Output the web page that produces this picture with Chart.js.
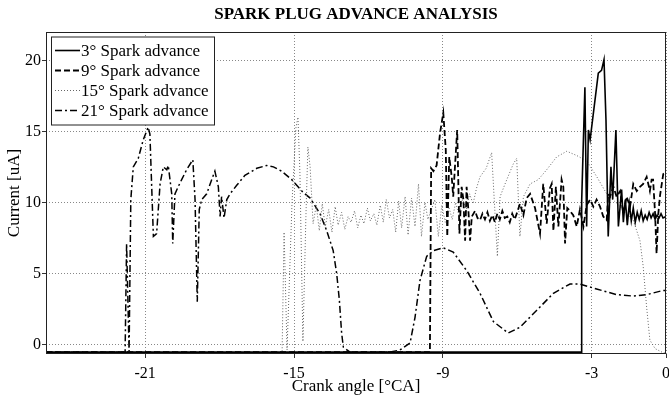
<!DOCTYPE html>
<html>
<head>
<meta charset="utf-8">
<script src="https://cdn.jsdelivr.net/npm/chart.js@4.4.0/dist/chart.umd.min.js"></script>
<style>
  html, body { margin: 0; padding: 0; background: #fff; }
  #wrap { width: 669px; height: 399px; }
</style>
</head>
<body>
<div id="wrap"><canvas id="chart"></canvas></div>
<script>
const chartTitle = 'SPARK PLUG ADVANCE ANALYSIS';
const seriesLabels = ['3° Spark advance', '9° Spark advance', '15° Spark advance', '21° Spark advance'];
const angleTicks = [-21, -15, -9, -3, 0];
const currentTicks = [0, 5, 10, 15, 20];

// [crank angle, current] samples for each advance setting
const spark3 = [
    [-25, -0.55], [-3.41, -0.55], [-3.40, 10.1], [-3.27, 18.1], [-3.20, 8.3], [-3.13, 15.1],
    [-3.06, 14.4], [-2.73, 19.1], [-2.60, 19.3], [-2.50, 20.05], [-2.42, 15.8], [-2.33, 7.6],
    [-2.22, 12.5], [-2.15, 10.2], [-2.02, 15.1], [-1.92, 8.3], [-1.79, 10.9], [-1.72, 8.6],
    [-1.64, 10.2], [-1.56, 8.4], [-1.48, 9.9], [-1.40, 8.7], [-1.32, 9.6], [-1.24, 8.6],
    [-1.16, 9.3], [-1.08, 8.8], [-1.00, 9.4], [-0.92, 8.7], [-0.84, 9.1], [-0.76, 8.8],
    [-0.68, 9.3], [-0.60, 8.9], [-0.52, 9.2], [-0.44, 8.8], [-0.36, 9.1], [-0.28, 8.9],
    [-0.20, 9.2], [-0.12, 8.9], [0, 9.0]
];

const spark9 = [
    [-25, -0.55], [-9.52, -0.55], [-9.47, 12.4], [-9.38, 12.2], [-9.25, 12.6], [-9.11, 14.9],
    [-8.98, 16.3], [-8.88, 13.7], [-8.82, 7.6], [-8.74, 13.2], [-8.64, 11.8], [-8.58, 10.4],
    [-8.51, 12.5], [-8.42, 15.1], [-8.33, 7.8], [-8.24, 11.1], [-8.17, 10.2], [-8.10, 7.3],
    [-8.04, 11.1], [-7.97, 9.5], [-7.90, 7.3], [-7.83, 9.0], [-7.70, 9.4], [-7.60, 8.9],
    [-7.50, 8.75], [-7.40, 9.2], [-7.30, 8.8], [-7.20, 9.3], [-7.10, 8.7], [-7.00, 9.1],
    [-6.90, 8.6], [-6.80, 9.2], [-6.70, 8.8], [-6.60, 9.4], [-6.50, 8.9], [-6.40, 9.0],
    [-6.30, 8.6], [-6.20, 9.2], [-6.10, 8.8], [-6.00, 9.3], [-5.89, 9.9], [-5.75, 9.1],
    [-5.62, 10.3], [-5.48, 10.6], [-5.28, 9.6], [-5.08, 7.8], [-4.95, 11.3], [-4.81, 8.5],
    [-4.68, 11.0], [-4.61, 11.3], [-4.54, 8.0], [-4.44, 11.1], [-4.34, 8.3], [-4.21, 11.6],
    [-4.14, 11.1], [-4.07, 7.1], [-3.98, 9.6], [-3.87, 9.4], [-3.74, 9.1], [-3.60, 8.3],
    [-3.47, 9.5], [-3.33, 8.3], [-3.20, 9.8], [-3.06, 10.2], [-2.93, 9.7], [-2.80, 10.2],
    [-2.66, 9.7], [-2.53, 9.0], [-2.39, 8.75], [-2.33, 10.6], [-2.26, 10.4], [-2.12, 11.1],
    [-1.99, 10.4], [-1.85, 10.8], [-1.72, 9.2], [-1.59, 10.4], [-1.45, 9.7], [-1.32, 11.3],
    [-1.18, 10.8], [-1.05, 11.1], [-0.92, 11.3], [-0.78, 11.8], [-0.65, 10.8], [-0.58, 11.6],
    [-0.52, 11.6], [-0.44, 9.2], [-0.38, 6.4], [-0.31, 9.2], [-0.24, 10.5], [-0.11, 12.0],
    [0, 12.1]
];

const spark15 = [
    [-25, -0.55], [-15.48, -0.55], [-15.40, 7.9], [-15.28, -0.4], [-15.08, 10.0], [-14.92, 15.3],
    [-14.84, 16.0], [-14.76, 12.0], [-14.64, 0.2], [-14.52, 9.0], [-14.44, 13.9], [-14.35, 12.5],
    [-14.23, 8.5], [-14.10, 9.8], [-13.98, 8.0], [-13.86, 9.9], [-13.74, 8.3], [-13.60, 9.5],
    [-13.47, 7.9], [-13.34, 9.7], [-13.22, 8.4], [-13.08, 9.3], [-12.95, 8.1], [-12.82, 9.0],
    [-12.70, 8.6], [-12.56, 9.4], [-12.43, 8.2], [-12.30, 9.1], [-12.18, 8.5], [-12.04, 9.6],
    [-11.92, 8.7], [-11.78, 9.2], [-11.66, 8.4], [-11.52, 9.8], [-11.40, 8.6], [-11.28, 10.2],
    [-11.15, 8.9], [-11.02, 9.5], [-10.90, 7.9], [-10.78, 10.1], [-10.66, 8.2], [-10.52, 10.4],
    [-10.40, 7.7], [-10.26, 10.3], [-10.12, 8.3], [-9.98, 11.3], [-9.86, 7.6], [-9.72, 10.0],
    [-9.60, 8.8], [-9.46, 9.5], [-9.32, 10.2], [-9.18, 7.6], [-9.04, 9.8], [-8.90, 8.6],
    [-8.76, 9.7], [-8.62, 8.8], [-8.48, 10.0], [-8.34, 9.0], [-8.20, 10.3], [-8.06, 9.4],
    [-7.92, 10.6], [-7.78, 9.9], [-7.64, 11.0], [-7.50, 11.8], [-7.25, 12.4], [-7.03, 13.5],
    [-6.80, 6.2], [-6.69, 10.4], [-6.49, 11.3], [-6.16, 12.7], [-6.02, 13.1], [-5.89, 7.6],
    [-5.75, 10.4], [-5.48, 11.3], [-5.15, 11.6], [-4.81, 12.3], [-4.41, 13.2], [-4.00, 13.6],
    [-3.60, 13.3], [-3.19, 12.9], [-2.79, 11.8], [-2.39, 10.6], [-1.85, 9.7], [-1.32, 8.75],
    [-1.05, 7.3], [-0.92, 5.5], [-0.78, 2.6], [-0.65, 0.3], [-0.44, -0.3], [-0.11, -0.6],
    [0, -0.6]
];

const spark21 = [
    [-25, -0.55], [-21.81, -0.55], [-21.75, 7.1], [-21.65, -0.5], [-21.58, 10.2], [-21.48, 12.5],
    [-21.28, 13.1], [-21.08, 14.4], [-20.88, 15.3], [-20.81, 14.8], [-20.67, 7.6], [-20.54, 7.8],
    [-20.40, 11.3], [-20.27, 12.5], [-20.13, 12.3], [-20.07, 12.6], [-19.93, 10.6], [-19.89, 7.1],
    [-19.80, 10.6], [-19.67, 11.1], [-19.53, 11.6], [-19.33, 12.3], [-19.08, 13.0], [-18.99, 10.2],
    [-18.90, 3.0], [-18.82, 9.5], [-18.72, 10.2], [-18.52, 10.6], [-18.32, 11.6], [-18.19, 12.2],
    [-18.05, 11.1], [-17.98, 9.0], [-17.92, 10.4], [-17.82, 8.9], [-17.71, 10.2], [-17.58, 10.6],
    [-17.31, 11.2], [-16.98, 11.9], [-16.50, 12.4], [-16.10, 12.6], [-15.83, 12.5], [-15.50, 12.2],
    [-15.09, 11.6], [-14.63, 10.7], [-14.35, 10.3], [-13.95, 9.2], [-13.68, 8.0], [-13.42, 6.6],
    [-13.28, 5.0], [-13.17, 3.1], [-13.08, 0.8], [-13.01, -0.2], [-12.74, -0.55], [-11.13, -0.55],
    [-10.73, -0.4], [-10.32, 0.1], [-10.12, 1.9], [-9.92, 4.5], [-9.65, 6.2], [-9.38, 6.6],
    [-8.98, 6.8], [-8.58, 6.5], [-8.04, 5.2], [-7.50, 3.6], [-6.96, 1.6], [-6.36, 0.8],
    [-5.89, 1.2], [-5.21, 2.4], [-4.54, 3.6], [-3.87, 4.25], [-3.47, 4.25], [-2.80, 3.9],
    [-1.99, 3.5], [-1.32, 3.4], [-0.78, 3.5], [-0.11, 3.8], [0, 3.8]
];

const serif = '"Liberation Serif", "Times New Roman", serif';
Chart.defaults.font.family = serif;
Chart.defaults.color = '#000';

const toPoints = rows => rows.map(([x, y]) => ({ x, y }));

const datasets = [
    { label: seriesLabels[0], data: toPoints(spark3), borderColor: '#000', borderWidth: 1.6, borderDash: [] },
    { label: seriesLabels[1], data: toPoints(spark9), borderColor: '#000', borderWidth: 1.8, borderDash: [6, 3] },
    { label: seriesLabels[2], data: toPoints(spark15), borderColor: '#666', borderWidth: 1, borderDash: [1, 2] },
    { label: seriesLabels[3], data: toPoints(spark21), borderColor: '#000', borderWidth: 1.5, borderDash: [7, 3, 2, 3] }
].map(d => ({ ...d, pointRadius: 0, tension: 0, fill: false }));

// box around the plot, the title on top and a boxed legend in the upper-left corner
const framePlugin = {
    id: 'framePlugin',
    afterDraw(chart) {
        const { ctx, chartArea: a } = chart;
        ctx.save();
        ctx.setLineDash([]);
        ctx.strokeStyle = '#222';
        ctx.lineWidth = 1;
        ctx.strokeRect(a.left + 0.5, a.top + 0.5, a.right - a.left - 1, a.bottom - a.top - 1);

        ctx.fillStyle = '#000';
        ctx.font = 'bold 17px ' + serif;
        ctx.textAlign = 'center';
        ctx.textBaseline = 'middle';
        ctx.fillText(chartTitle, (a.left + a.right) / 2, 15);

        const lx = a.left + 5, ly = a.top + 4.5, lw = 163, lh = 88;
        ctx.fillStyle = '#fff';
        ctx.fillRect(lx, ly, lw, lh);
        ctx.strokeStyle = '#222';
        ctx.strokeRect(lx + 0.5, ly + 0.5, lw, lh);

        ctx.font = '17px ' + serif;
        ctx.textAlign = 'left';
        chart.data.datasets.forEach((ds, i) => {
            const y = ly + 14 + i * 20;
            ctx.strokeStyle = ds.borderColor;
            ctx.lineWidth = ds.borderWidth;
            ctx.setLineDash(ds.borderDash);
            ctx.beginPath();
            ctx.moveTo(lx + 4, y);
            ctx.lineTo(lx + 29, y);
            ctx.stroke();
            ctx.setLineDash([]);
            ctx.fillStyle = '#000';
            ctx.fillText(ds.label, lx + 30, y + 1);
        });
        ctx.restore();
    }
};

new Chart(document.getElementById('chart'), {
    type: 'line',
    data: { datasets },
    plugins: [framePlugin],
    options: {
        responsive: true,
        maintainAspectRatio: false,
        animation: false,
        layout: { padding: { top: 32, right: 3, left: 0, bottom: 0 } },
        plugins: {
            legend: { display: false },
            title: { display: false },
            tooltip: { enabled: false }
        },
        scales: {
            x: {
                type: 'linear',
                min: -25,
                max: 0,
                afterBuildTicks: scale => { scale.ticks = angleTicks.map(value => ({ value })); },
                afterFit: scale => { scale.height = 45; scale.paddingLeft = 0; scale.paddingRight = 0; },
                ticks: { font: { size: 16 }, padding: 6, maxRotation: 0, autoSkip: false, color: '#000' },
                grid: { color: '#888', lineWidth: 1, tickLength: 4, tickColor: '#333', tickBorderDash: [] },
                border: { display: false, dash: [1, 2] },
                title: { display: true, text: 'Crank angle [°CA]', font: { size: 17 }, padding: { top: 0, bottom: 2 } }
            },
            y: {
                min: -0.68,
                max: 22,
                afterBuildTicks: scale => { scale.ticks = currentTicks.map(value => ({ value })); },
                afterFit: scale => { scale.width = 46; scale.paddingTop = 0; scale.paddingBottom = 0; },
                ticks: { font: { size: 16 }, padding: 1, color: '#000' },
                grid: { color: '#888', lineWidth: 1, tickLength: 4, tickColor: '#333', tickBorderDash: [] },
                border: { display: false, dash: [1, 2] },
                title: { display: true, text: 'Current [uA]', font: { size: 17 }, padding: { top: 4, bottom: 0 } }
            }
        }
    }
});
</script>
</body>
</html>
